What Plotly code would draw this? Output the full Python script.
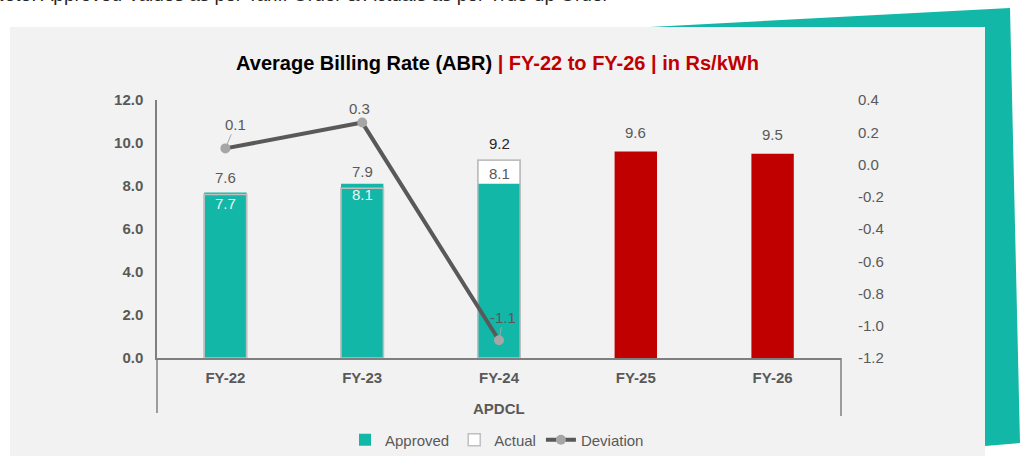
import plotly.graph_objects as go

categories = ["FY-22", "FY-23", "FY-24", "FY-25", "FY-26"]
approved = [7.7, 8.1, 8.1, 9.6, 9.5]
actual = [7.6, 7.9, 9.2, None, None]
deviation = [0.1, 0.26, -1.09, None, None]
y_ticks = [0, 2, 4, 6, 8, 10, 12]
y2_ticks = [-1.2, -1.0, -0.8, -0.6, -0.4, -0.2, 0.0, 0.2, 0.4]
group_label = "APDCL"
note_text = "Note: Approved Values as per Tariff Order & Actuals as per True-up Order"
title_main = "Average Billing Rate (ABR)"
title_sub = " | FY-22 to FY-26 | in Rs/kWh"

TEAL = "#13B7A7"
RED = "#C00000"
GRAY_TXT = "#595959"
FONT = "Arial, Liberation Sans, sans-serif"

W, H = 1021, 456
L, R, T, B = 157, 180, 100, 98


def px(x):
    # pixel -> paper x
    return (x - L) / (W - L - R)


def py(y):
    # pixel -> paper y
    return (H - B - y) / (H - T - B)


bar_colors = [TEAL if a is not None else RED for a in actual]

fig = go.Figure()
fig.add_trace(go.Bar(x=categories, y=actual, name="Actual", width=0.31, legendrank=2,
                     marker=dict(color="white", line=dict(color="#BFBFBF", width=1.5))))
fig.add_trace(go.Bar(x=categories, y=approved, name="Approved", width=0.31, legendrank=1,
                     marker=dict(color=bar_colors, line=dict(width=0))))
fig.add_trace(go.Bar(x=categories, y=actual, width=0.31, showlegend=False, hoverinfo="skip",
                     marker=dict(color="rgba(0,0,0,0)", line=dict(color="#BFBFBF", width=1.5))))
fig.add_trace(go.Scatter(x=categories, y=deviation, name="Deviation", yaxis="y2", legendrank=3,
                         mode="lines+markers", line=dict(color=GRAY_TXT, width=4),
                         marker=dict(color="#A6A6A6", size=10)))

annotations = []
# bar data labels
for i, c in enumerate(categories):
    ap, ac = approved[i], actual[i]
    if ac is not None:
        annotations.append(dict(x=c, y=ac, yref="y", text=f"{ac:.1f}", showarrow=False, yshift=17,
                                font=dict(size=15, color="#262626" if ac > ap else GRAY_TXT)))
        if ap >= ac:
            shift, col = -11, "#F2F2F2"
        else:
            shift, col = 10, GRAY_TXT
    else:
        shift, col = 19, GRAY_TXT
    annotations.append(dict(x=c, y=ap, yref="y", text=f"{ap:.1f}", showarrow=False, yshift=shift,
                            font=dict(size=15, color=col)))

# deviation labels with leader lines
dev_ax = [10, -3, 4]
dev_ay = [-24, -14, -23]
for i, d in enumerate(deviation):
    if d is None:
        continue
    annotations.append(dict(x=categories[i], y=d, xref="x", yref="y2", text=f"{d:.1f}",
                            showarrow=True, arrowhead=0, arrowwidth=1, arrowcolor="#A6A6A6",
                            ax=dev_ax[i], ay=dev_ay[i], standoff=4,
                            font=dict(size=15, color=GRAY_TXT)))

annotations.append(dict(x=px(499), y=py(408), xref="paper", yref="paper", text=group_label,
                        yanchor="middle", showarrow=False,
                        font=dict(size=15, color=GRAY_TXT, weight="bold")))
annotations.append(dict(x=px(-11), y=py(-5), xref="paper", yref="paper", text=note_text,
                        xanchor="left", yanchor="middle", showarrow=False,
                        font=dict(size=19, color="#262626")))

shapes = [
    dict(type="rect", xref="paper", yref="paper", x0=px(10), x1=px(985), y0=py(460), y1=py(27),
         fillcolor="#F2F2F2", line=dict(width=0), layer="below"),
    dict(type="path", xref="paper", yref="paper", layer="below", fillcolor=TEAL, line=dict(width=0),
         path=(f"M {px(650)} {py(27)} L {px(1010)} {py(8)} L {px(1020)} {py(443)} "
               f"L {px(985)} {py(446)} L {px(985)} {py(27)} Z")),
    dict(type="line", xref="paper", yref="paper", x0=0, x1=0, y0=py(358), y1=py(413),
         line=dict(color="#7F7F7F", width=1.5)),
    dict(type="line", xref="paper", yref="paper", x0=1, x1=1, y0=py(358), y1=py(416),
         line=dict(color="#7F7F7F", width=1.5)),
]

fig.update_layout(
    width=W, height=H, margin=dict(l=L, r=R, t=T, b=B, autoexpand=False),
    paper_bgcolor="white", plot_bgcolor="rgba(0,0,0,0)",
    barmode="overlay", font=dict(family=FONT, color=GRAY_TXT),
    title=dict(text=f"<b>{title_main}</b><b><span style='color:{RED}'>{title_sub}</span></b>",
               x=497.5 / W, xanchor="center", y=1 - 63 / H, yanchor="middle",
               font=dict(size=20, color="#000000")),
    xaxis=dict(type="category", range=[-0.5, 4.5], showline=True, linecolor="#7F7F7F", linewidth=1.5,
               showgrid=False, ticks="", ticklabelstandoff=5,
               tickfont=dict(size=15, color=GRAY_TXT, weight="bold")),
    yaxis=dict(range=[0, 12], tickvals=y_ticks, ticktext=[f"{v:.1f}" for v in y_ticks],
               showline=True, linecolor="#7F7F7F", ticklabelstandoff=9,
               linewidth=1.5, showgrid=False, zeroline=False, ticks="",
               tickfont=dict(size=15, color=GRAY_TXT, weight="bold")),
    yaxis2=dict(range=[-1.2, 0.4], tickvals=y2_ticks, ticktext=[f"{v:.1f}" for v in y2_ticks],
                overlaying="y", side="right", ticklabelstandoff=16,
                showgrid=False, zeroline=False, showline=False, ticks="",
                tickfont=dict(size=15, color=GRAY_TXT)),
    legend=dict(orientation="h", x=497 / W, xref="container", xanchor="center",
                y=1 - 440 / H, yref="container", yanchor="middle",
                bgcolor="rgba(0,0,0,0)", font=dict(size=15, color=GRAY_TXT)),
    annotations=annotations, shapes=shapes, hovermode=False,
)

fig.write_html("out.html", config={"displayModeBar": False},
               post_script="document.body.style.margin='0px';")
